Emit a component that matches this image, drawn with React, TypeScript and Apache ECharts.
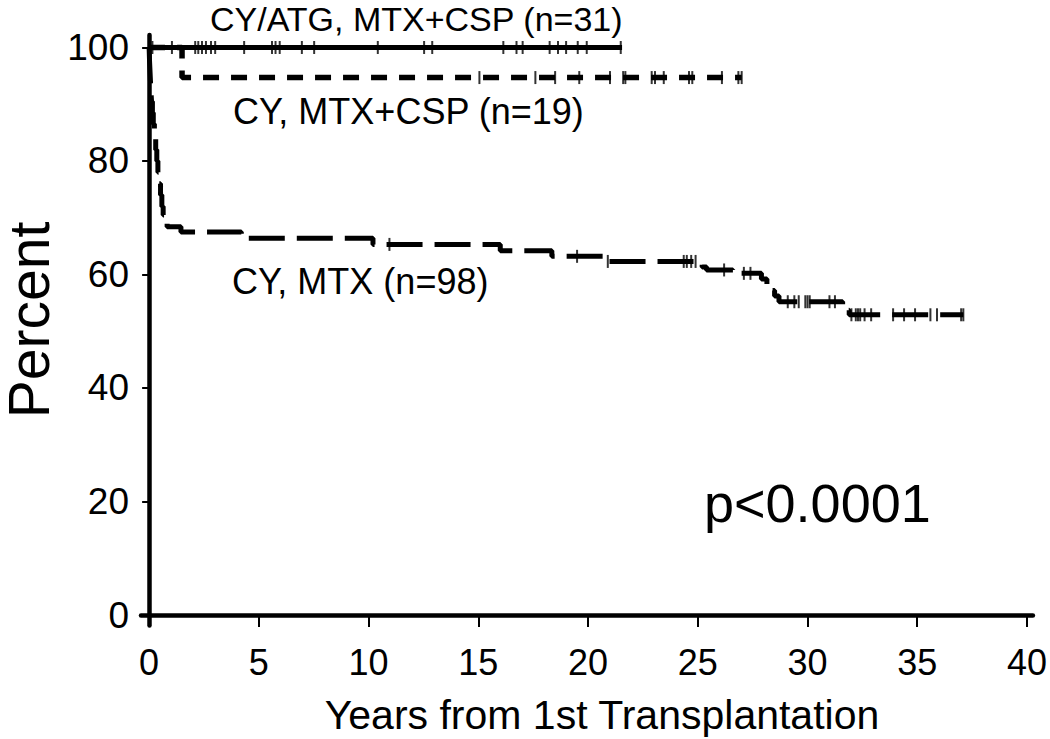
import React, { useEffect, useRef } from "react";
import * as echarts from "echarts";

// ---- axis ticks ----
const xTicks = [0, 5, 10, 15, 20, 25, 30, 35, 40];
const yTicks = [0, 20, 40, 60, 80, 100];

// ---- CY/ATG, MTX+CSP (n=31) ----
const atgTimes = [0, 21.55];
const atgSurv = [100, 100];
const atgCensor = [0.15, 1.04, 2.1, 2.24, 2.41, 2.59, 2.82, 3.01, 4.33, 5.6, 5.76, 5.95, 6.96, 7.52, 10.42, 12.53, 12.9, 16.14, 16.74, 17.02, 18.25, 18.63, 19.0, 19.53, 19.94, 21.49];

// ---- CY, MTX+CSP (n=19) ----
const cspTimes = [0, 1.5, 27.0];
const cspSurv = [100, 94.7, 94.7];
const cspCensor = [15.05, 17.6, 18.5, 19.6, 21.0, 21.6, 21.7, 22.9, 23.05, 23.45, 24.6, 24.75, 26.1, 26.85, 27.0];

// ---- CY, MTX (n=98) ----
const mtxTimes = [0, 0.02, 0.05, 0.08, 0.11, 0.15, 0.19, 0.24, 0.3, 0.35, 0.4, 0.46, 0.52, 0.58, 0.64, 0.72, 0.82, 1.45, 4.2, 10.2, 16.0, 18.35, 20.7, 25.2, 25.4, 26.6, 27.9, 28.15, 28.35, 28.5, 28.7, 31.6, 31.75, 31.9, 37.1];
const mtxSurv = [100, 97.5, 95, 92.5, 90.5, 88.5, 86.5, 84.5, 82, 80, 78, 76, 74, 72, 70.5, 69.4, 68.4, 67.5, 66.4, 65.3, 64.2, 63.2, 62.3, 61.3, 60.8, 60.2, 59.2, 58.2, 57.2, 56.2, 55.2, 54.4, 53.7, 52.9, 52.9];
const mtxCensor = [10.95, 19.5, 20.9, 24.36, 24.5, 24.7, 24.9, 26.2, 27.1, 27.4, 29.1, 29.4, 29.6, 29.9, 30.0, 30.1, 31.0, 31.25, 32.0, 32.2, 32.3, 32.4, 32.6, 32.9, 33.9, 34.4, 34.9, 35.6, 35.9, 37.0, 37.1];

// ---- texts ----
const labelATG = "CY/ATG, MTX+CSP (n=31)";
const labelCSP = "CY, MTX+CSP (n=19)";
const labelMTX = "CY, MTX (n=98)";
const pText = "p<0.0001";
const yTitle = "Percent";
const xTitle = "Years from 1st Transplantation";

const FONT = "'Liberation Sans', Arial, Helvetica, sans-serif";

function survAt(times: number[], surv: number[], t: number): number {
  let v = surv[0];
  for (let i = 0; i < times.length; i++) {
    if (times[i] <= t) v = surv[i];
  }
  return v;
}

function curve(times: number[], surv: number[]) {
  return times.map((t, i) => [t, surv[i]]);
}

function censorPts(times: number[], surv: number[], cens: number[]) {
  return cens.map((t) => [t, survAt(times, surv, t)]);
}

function textEl(text: string, x: number, y: number, size: number, align = "left", rotation = 0) {
  return {
    type: "text",
    x,
    y,
    rotation,
    style: {
      text,
      fontSize: size,
      fontFamily: FONT,
      fill: "#000",
      textAlign: align,
      textVerticalAlign: "middle",
      align,
      verticalAlign: "middle",
    },
  };
}

export default function App() {
  const ref = useRef<HTMLDivElement>(null);

  useEffect(() => {
    if (!ref.current) return;
    const chart = echarts.init(ref.current, null, { renderer: "svg" });
    const censorSeries = (data: number[][]) => ({
      type: "scatter",
      data,
      symbol: "rect",
      symbolSize: [2, 13],
      itemStyle: { color: "#000" },
      silent: true,
      z: 5,
    });
    chart.setOption({
      animation: false,
      backgroundColor: "#fff",
      grid: { left: 141, right: 9, top: 35, bottom: 113.5 },
      xAxis: {
        type: "value",
        min: -0.37,
        max: 40.27,
        splitLine: { show: false },
        axisLine: { show: true, lineStyle: { color: "#000", width: 4.5 } },
        axisTick: { show: true, customValues: xTicks, length: 12, lineStyle: { color: "#000", width: 2 } },
        axisLabel: { customValues: xTicks, color: "#000", fontSize: 36, fontFamily: FONT, margin: 19 },
      },
      yAxis: {
        type: "value",
        min: -1.85,
        max: 102.2,
        splitLine: { show: false },
        axisLine: { show: true, lineStyle: { color: "#000", width: 4.5 } },
        axisTick: { show: true, customValues: yTicks, length: 7, lineStyle: { color: "#000", width: 2 } },
        axisLabel: { customValues: yTicks, color: "#000", fontSize: 37, fontFamily: FONT, margin: 12 },
      },
      series: [
        {
          name: labelATG,
          type: "line",
          step: "end",
          data: curve(atgTimes, atgSurv),
          symbol: "none",
          lineStyle: { color: "#000", width: 5, type: "solid" },
          z: 3,
        },
        {
          name: labelCSP,
          type: "line",
          step: "end",
          data: curve(cspTimes, cspSurv),
          symbol: "none",
          lineStyle: { color: "#000", width: 5.5, type: [16, 12] },
          z: 2,
        },
        {
          name: labelMTX,
          type: "line",
          step: "end",
          data: curve(mtxTimes, mtxSurv),
          symbol: "none",
          lineStyle: { color: "#000", width: 5, type: [36, 12] },
          z: 2,
        },
        censorSeries(censorPts(atgTimes, atgSurv, atgCensor)),
        censorSeries(censorPts(cspTimes, cspSurv, cspCensor)),
        censorSeries(censorPts(mtxTimes, mtxSurv, mtxCensor)),
      ],
      graphic: [
        textEl(labelATG, 210, 19, 34),
        textEl(labelCSP, 233, 111, 36),
        textEl(labelMTX, 232, 281, 36),
        textEl(pText, 704, 503, 54),
        textEl(yTitle, 29, 320, 57, "center", Math.PI / 2),
        textEl(xTitle, 602, 715, 41, "center"),
      ],
    });
    return () => chart.dispose();
  }, []);

  return (
    <div
      ref={ref}
      style={{ position: "fixed", left: 0, top: 0, width: 1050, height: 739, background: "#fff" }}
    />
  );
}
